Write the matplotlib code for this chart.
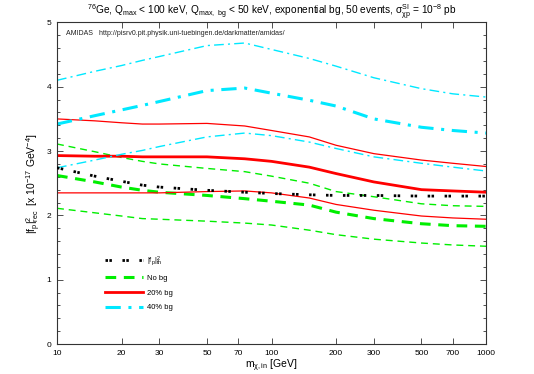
import matplotlib
matplotlib.use('Agg')
import matplotlib.pyplot as plt
import numpy as np

plt.rcParams['font.family'] = ['Liberation Sans', 'DejaVu Sans']
plt.rcParams['mathtext.default'] = 'regular'

# WIMP masses [GeV]
mass = [10, 15, 20, 25, 30, 50, 75, 100, 150, 200, 300, 500, 700, 1000]

# theoretical |f_p|^2
f_th = [2.74, 2.61, 2.53, 2.47, 2.44, 2.39, 2.36, 2.34, 2.32, 2.31, 2.31, 2.30, 2.30, 2.30]

# no background: upper bound, reconstructed, lower bound
nobg_hi = [3.11, 2.99, 2.90, 2.84, 2.80, 2.73, 2.68, 2.61, 2.50, 2.37, 2.29, 2.18, 2.15, 2.14]
nobg = [2.62, 2.52, 2.44, 2.39, 2.36, 2.31, 2.26, 2.22, 2.16, 2.05, 1.95, 1.87, 1.84, 1.83]
nobg_lo = [2.11, 2.04, 1.99, 1.95, 1.94, 1.91, 1.88, 1.85, 1.77, 1.70, 1.63, 1.57, 1.54, 1.52]

# 20% background
bg20_hi = [3.50, 3.47, 3.44, 3.42, 3.42, 3.43, 3.39, 3.32, 3.22, 3.09, 2.96, 2.86, 2.81, 2.76]
bg20 = [2.93, 2.92, 2.92, 2.91, 2.91, 2.91, 2.88, 2.84, 2.75, 2.65, 2.52, 2.40, 2.38, 2.36]
bg20_lo = [2.35, 2.35, 2.35, 2.35, 2.35, 2.37, 2.38, 2.35, 2.27, 2.17, 2.08, 1.99, 1.96, 1.94]

# 40% background
bg40_hi = [4.10, 4.24, 4.33, 4.41, 4.47, 4.64, 4.68, 4.58, 4.44, 4.32, 4.14, 3.97, 3.89, 3.84]
bg40 = [3.42, 3.55, 3.64, 3.71, 3.77, 3.94, 3.98, 3.90, 3.79, 3.70, 3.50, 3.37, 3.32, 3.28]
bg40_lo = [2.74, 2.86, 2.95, 3.01, 3.07, 3.22, 3.28, 3.24, 3.14, 3.04, 2.91, 2.81, 2.75, 2.69]

xticks = [10, 20, 30, 50, 70, 100, 200, 300, 500, 700, 1000]

fig = plt.figure(figsize=(5.34, 3.74), dpi=100)
ax = fig.add_axes([0.1067, 0.0802, 0.8035, 0.8598])

green = '#00ee00'
cyan = '#00e8ff'
red = '#ff0000'

dash_c = (0, (7, 3, 1.5, 3))

ax.plot(mass, f_th, color='black', lw=2.0, ls=(0, (0.9, 0.5, 0.9, 3.8)),
        label=r'$|f_p|^2_{th}$', zorder=5)
ax.plot(mass, nobg, color=green, lw=2.2, ls=(0, (3.5, 2.5)), label='No bg')
ax.plot(mass, nobg_hi, color=green, lw=1.0, ls=(0, (5, 3.5)))
ax.plot(mass, nobg_lo, color=green, lw=1.0, ls=(0, (5, 3.5)))
ax.plot(mass, bg20, color=red, lw=2.0, ls='-', label='20% bg')
ax.plot(mass, bg20_hi, color=red, lw=0.9, ls='-')
ax.plot(mass, bg20_lo, color=red, lw=0.9, ls='-')
ax.plot(mass, bg40, color=cyan, lw=2.2, ls=(0, (5, 2.5, 1, 2.5)), label='40% bg')
ax.plot(mass, bg40_hi, color=cyan, lw=1.0, ls=dash_c)
ax.plot(mass, bg40_lo, color=cyan, lw=1.0, ls=dash_c)

ax.set_xscale('log')
ax.set_xlim(10, 1000)
ax.set_ylim(0, 5)
ax.set_xticks(xticks)
ax.set_xticklabels([str(t) for t in xticks])
ax.xaxis.set_minor_locator(matplotlib.ticker.NullLocator())
ax.set_yticks(np.arange(0, 6, 1))
ax.yaxis.set_minor_locator(matplotlib.ticker.MultipleLocator(0.2))
ax.tick_params(which='both', direction='in', top=True, right=True,
               labelsize=6, colors='#333333', labelcolor='black')
ax.tick_params(which='major', length=4, width=0.6, pad=4)
ax.tick_params(which='minor', length=2, width=0.6)
for s in ax.spines.values():
    s.set_linewidth(0.8)
    s.set_color('#333333')

ax.set_xlabel(r'$m_{\chi,in}$ [GeV]', fontsize=7.5, labelpad=1)
ax.set_ylabel(r'$|f_p|^2_{rec}$  [x 10$^{-17}$ GeV$^{-4}$]', fontsize=7.5, labelpad=3)
ax.set_title(r'$^{76}$Ge, $Q_{max}$ < 100 keV, $Q_{max,\ bg}$ < 50 keV, exponential bg, '
             r'50 events, $\sigma^{SI}_{\chi p}$ = 10$^{-8}$ pb', fontsize=7.3, pad=4)

ax.text(0.02, 0.975, 'AMIDAS   http://pisrv0.pit.physik.uni-tuebingen.de/darkmatter/amidas/',
        transform=ax.transAxes, fontsize=5, va='top', ha='left', color='#222222')

ax.legend(loc='upper left', bbox_to_anchor=(0.095, 0.30), frameon=False,
          fontsize=5.5, handlelength=5.0, labelspacing=0.95, handletextpad=0.6)

fig.savefig('out.png', dpi=100)
